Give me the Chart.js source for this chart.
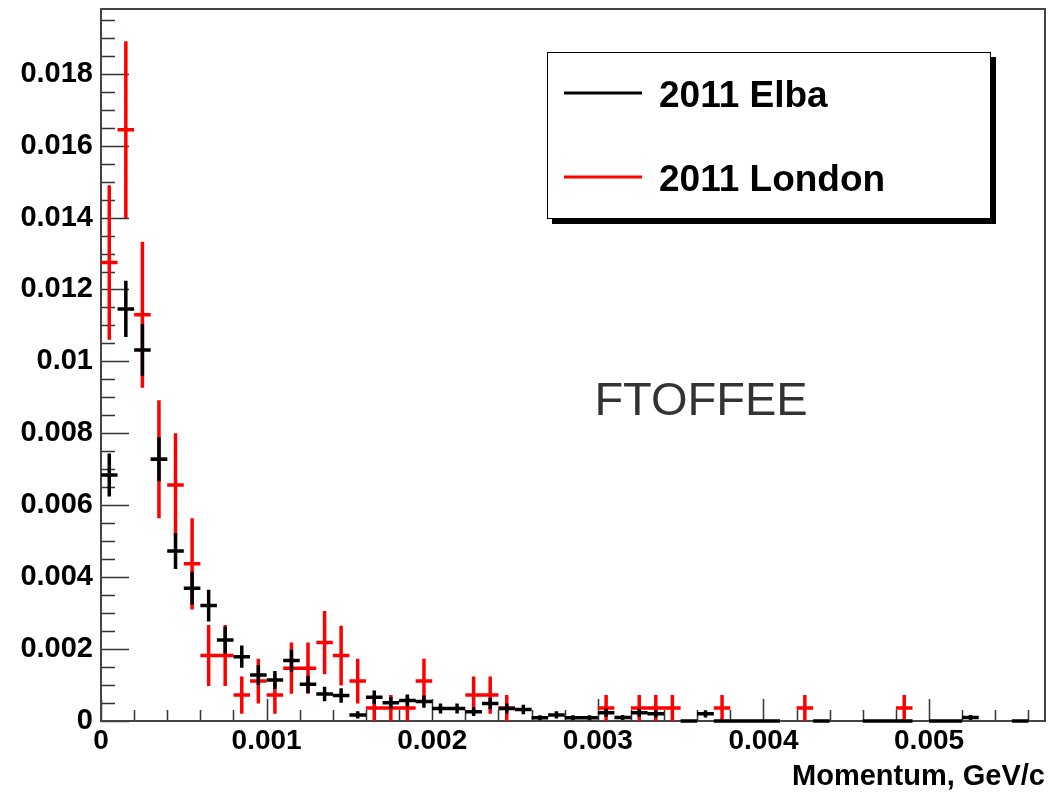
<!DOCTYPE html>
<html><head><meta charset="utf-8">
<script src="https://cdn.jsdelivr.net/npm/chart.js@4.4.1/dist/chart.umd.min.js"></script>
<style>html,body{margin:0;padding:0;background:#fff;}canvas{display:block;}</style>
</head><body>
<canvas id="c" width="1054" height="792"></canvas>
<script>
// ---- data (bin centres in GeV/c, bin width 0.0001) ----
const SERIES_NAMES = ['2011 Elba', '2011 London'];
const BIN_HALF = 0.00005;

const ELBA_X = [0.00005,0.00015,0.00025,0.00035,0.00045,0.00055,0.00065,0.00075,0.00085,0.00095,
  0.00105,0.00115,0.00125,0.00135,0.00145,0.00155,0.00165,0.00175,0.00185,0.00195,
  0.00205,0.00215,0.00225,0.00235,0.00245,0.00255,0.00265,0.00275,0.00285,0.00295,
  0.00305,0.00315,0.00325,0.00335,0.00355,0.00365,0.00375,0.00385,0.00395,0.00405,
  0.00435,0.00465,0.00475,0.00485,0.00505,0.00515,0.00525,0.00555];
const ELBA_Y = [0.00684,0.01146,0.01032,0.00728,0.00473,0.00369,0.00321,0.00225,0.00179,0.00128,
  0.00114,0.00168,0.00102,0.00075,0.00071,0.00017,0.00066,0.00051,0.00057,0.00054,
  0.00035,0.00035,0.00026,0.00049,0.00035,0.00032,0.00009,0.00017,0.00009,0.00009,
  0.00023,0.00010,0.00023,0.00020,0,0.00020,0,0,0,0,
  0,0,0,0,0,0,0.00010,0];
const ELBA_ERR = [0.00060,0.00078,0.00072,0.00061,0.00050,0.00046,0.00044,0.00037,0.00031,0.00028,
  0.00025,0.00030,0.00024,0.00020,0.00020,0.00010,0.00019,0.00016,0.00017,0.00017,
  0.00014,0.00014,0.00012,0.00016,0.00014,0.00013,0.00007,0.00010,0.00007,0.00007,
  0.00011,0.00007,0.00011,0.00010,0,0.00010,0,0,0,0,
  0,0,0,0,0,0,0.00007,0];

const LONDON_X = [0.00005,0.00015,0.00025,0.00035,0.00045,0.00055,0.00065,0.00075,0.00085,0.00095,
  0.00105,0.00115,0.00125,0.00135,0.00145,0.00155,0.00165,0.00175,0.00185,0.00195,
  0.00225,0.00235,0.00245,0.00305,0.00325,0.00335,0.00345,0.00375,0.00425,0.00485];
const LONDON_Y = [0.01275,0.01644,0.01130,0.00728,0.00656,0.00437,0.00182,0.00182,0.00072,0.00111,
  0.00072,0.00147,0.00147,0.00218,0.00182,0.00111,0.00036,0.00036,0.00036,0.00111,
  0.00072,0.00072,0.00036,0.00036,0.00036,0.00036,0.00036,0.00036,0.00036,0.00036];
const LONDON_ERR = [0.00215,0.00246,0.00203,0.00164,0.00144,0.00127,0.00085,0.00085,0.00052,0.00062,
  0.00052,0.00071,0.00071,0.00088,0.00083,0.00062,0.00036,0.00036,0.00036,0.00062,
  0.00052,0.00052,0.00036,0.00036,0.00036,0.00036,0.00036,0.00036,0.00036,0.00036];

const X_TICKS = [0, 0.001, 0.002, 0.003, 0.004, 0.005];
const X_TICK_LABELS = ['0', '0.001', '0.002', '0.003', '0.004', '0.005'];
const Y_TICKS = [0, 0.002, 0.004, 0.006, 0.008, 0.010, 0.012, 0.014, 0.016, 0.018];
const Y_TICK_LABELS = ['0', '0.002', '0.004', '0.006', '0.008', '0.01', '0.012', '0.014', '0.016', '0.018'];
const X_TITLE = 'Momentum, GeV/c';
const LABEL_TEXT = 'FTOFFEE';

const X_MIN = 0, X_MAX = 0.0057, Y_MIN = 0, Y_MAX = 0.0198;
const X_MINOR = 0.0002, Y_MINOR = 0.0005;

const FONT = '"Liberation Sans", Arial, Helvetica, sans-serif';

function pts(xs, ys, es) { return xs.map((x, i) => ({x: x, y: ys[i], e: es[i]})); }

const rootPlugin = {
  id: 'rootStyle',
  beforeDatasetsDraw(chart) {
    const {ctx, chartArea: a, scales: {x, y}} = chart;
    ctx.save();
    ctx.strokeStyle = '#333';
    ctx.lineWidth = 1.5;
    ctx.beginPath();
    for (let i = 0; i * X_MINOR <= X_MAX + 1e-12; i++) {
      const px = Math.round(x.getPixelForValue(i * X_MINOR)) + 0.5;
      const len = (i % 5 === 0) ? 22 : 11;
      ctx.moveTo(px, a.bottom); ctx.lineTo(px, a.bottom - len);
    }
    for (let i = 0; i * Y_MINOR <= Y_MAX + 1e-12; i++) {
      const py = Math.round(y.getPixelForValue(i * Y_MINOR)) + 0.5;
      const len = (i % 4 === 0) ? 28 : 14;
      ctx.moveTo(a.left, py); ctx.lineTo(a.left + len, py);
    }
    ctx.stroke();
    ctx.strokeStyle = '#444';
    ctx.lineWidth = 2;
    ctx.strokeRect(a.left, a.top, a.right - a.left, a.bottom - a.top);
    ctx.restore();
  },
  afterDatasetsDraw(chart) {
    const {ctx, scales: {x, y}} = chart;
    ctx.save();
    ctx.lineWidth = 3.5;
    ctx.lineCap = 'butt';
    chart.data.datasets.forEach(ds => {
      ctx.strokeStyle = ds.borderColor;
      ctx.beginPath();
      ds.data.forEach(p => {
        const xl = x.getPixelForValue(p.x - BIN_HALF), xr = x.getPixelForValue(p.x + BIN_HALF);
        const xc = x.getPixelForValue(p.x);
        const yc = y.getPixelForValue(p.y);
        ctx.moveTo(xl, yc); ctx.lineTo(xr, yc);
        if (p.e > 0) {
          ctx.moveTo(xc, y.getPixelForValue(p.y + p.e));
          ctx.lineTo(xc, y.getPixelForValue(Math.max(0, p.y - p.e)));
        }
      });
      ctx.stroke();
    });
    ctx.restore();
  },
  afterDraw(chart) {
    const ctx = chart.ctx;
    ctx.save();
    // legend box with shadow
    const bx = 547, by = 52, bw = 444, bh = 167;
    ctx.fillStyle = '#000';
    ctx.fillRect(bx + 5, by + 5, bw, bh);
    ctx.fillStyle = '#fff';
    ctx.fillRect(bx, by, bw, bh);
    ctx.strokeStyle = '#000';
    ctx.lineWidth = 1;
    ctx.strokeRect(bx + 0.5, by + 0.5, bw - 1, bh - 1);
    // legend entries: Elba (black) then London (red)
    const order = [1, 0];
    const rows = [93, 177];
    const bases = [106.5, 190.5];
    order.forEach((di, r) => {
      const ds = chart.data.datasets[di];
      ctx.strokeStyle = ds.borderColor;
      ctx.lineWidth = 3;
      ctx.beginPath();
      ctx.moveTo(564, rows[r]); ctx.lineTo(642, rows[r]);
      ctx.stroke();
      ctx.fillStyle = '#000';
      ctx.font = 'bold 37px ' + FONT;
      ctx.textAlign = 'left';
      ctx.textBaseline = 'alphabetic';
      ctx.fillText(ds.label, 659, bases[r]);
    });
    // FTOFFEE label
    ctx.fillStyle = '#333';
    ctx.font = '47px ' + FONT;
    ctx.textAlign = 'center';
    ctx.textBaseline = 'alphabetic';
    ctx.fillText(LABEL_TEXT, 701, 415);
    ctx.restore();
  }
};

new Chart(document.getElementById('c'), {
  type: 'scatter',
  data: {
    datasets: [
      {label: SERIES_NAMES[1], data: pts(LONDON_X, LONDON_Y, LONDON_ERR), borderColor: '#ff0000', backgroundColor: '#ff0000', pointRadius: 0, showLine: false},
      {label: SERIES_NAMES[0], data: pts(ELBA_X, ELBA_Y, ELBA_ERR), borderColor: '#000000', backgroundColor: '#000000', pointRadius: 0, showLine: false}
    ]
  },
  options: {
    responsive: false,
    animation: false,
    devicePixelRatio: 1,
    layout: {padding: {top: 9, right: 9, left: 0, bottom: 0}},
    plugins: {legend: {display: false}, tooltip: {enabled: false}},
    events: [],
    scales: {
      x: {
        type: 'linear', min: X_MIN, max: X_MAX,
        grid: {display: false, drawTicks: false},
        border: {display: false},
        afterBuildTicks: s => { s.ticks = X_TICKS.map(v => ({value: v})); },
        afterFit: s => { s.height = 71; s.paddingLeft = 0; s.paddingRight = 0; },
        ticks: {
          padding: 3, maxRotation: 0, autoSkip: false, color: '#000',
          font: {family: FONT, size: 28, weight: 'bold'},
          callback: (v, i) => X_TICK_LABELS[i]
        },
        title: {
          display: true, text: X_TITLE, align: 'end', color: '#000',
          font: {family: FONT, size: 29, weight: 'bold', lineHeight: 1},
          padding: {top: 0, bottom: 1}
        }
      },
      y: {
        type: 'linear', min: Y_MIN, max: Y_MAX,
        grid: {display: false, drawTicks: false},
        border: {display: false},
        afterBuildTicks: s => { s.ticks = Y_TICKS.map(v => ({value: v})); },
        afterFit: s => { s.width = 101; s.paddingTop = 0; s.paddingBottom = 0; },
        ticks: {
          padding: 8, autoSkip: false, color: '#000',
          font: {family: FONT, size: 29, weight: 'bold'},
          callback: (v, i) => Y_TICK_LABELS[i]
        }
      }
    }
  },
  plugins: [rootPlugin]
});
</script>
</body></html>
